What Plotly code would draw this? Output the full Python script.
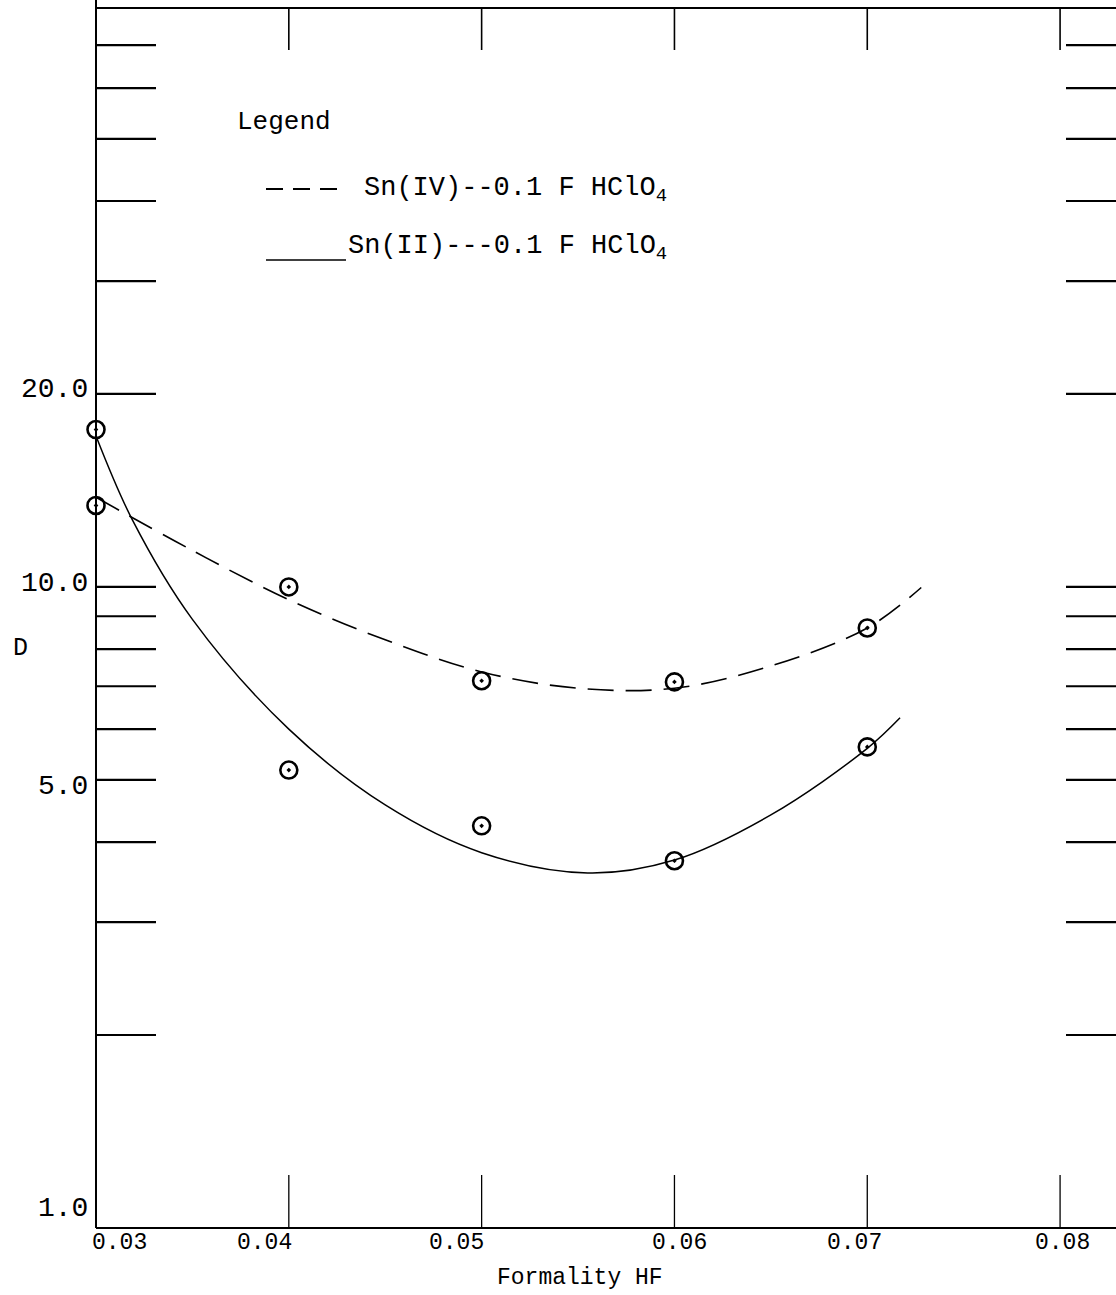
import math
import plotly.graph_objects as go

# ---------------- data ----------------
hf = [0.03, 0.04, 0.05, 0.06, 0.07]
d_sn2 = [17.6, 5.18, 4.24, 3.74, 5.63]
d_sn4 = [13.4, 10.0, 7.14, 7.11, 8.63]

sn2_curve_x = [0.030, 0.0319, 0.035, 0.040, 0.045, 0.050, 0.0555, 0.060, 0.065, 0.070, 0.0717]
sn2_curve_y = [17.2, 12.7, 8.9, 6.0, 4.57, 3.85, 3.58, 3.75, 4.41, 5.6, 6.25]
sn4_curve_x = [0.030, 0.035, 0.040, 0.045, 0.050, 0.055, 0.060, 0.065, 0.070, 0.0728]
sn4_curve_y = [13.8, 11.4, 9.55, 8.27, 7.37, 6.95, 6.95, 7.53, 8.63, 9.98]

x_ticks = [0.03, 0.04, 0.05, 0.06, 0.07, 0.08]
x_tick_labels = ["0.03", "0.04", "0.05", "0.06", "0.07", "0.08"]
y_minor_ticks = [2, 3, 4, 5, 6, 7, 8, 9, 10, 20, 30, 40, 50, 60, 70]
y_label_vals = [1.0, 5.0, 10.0, 20.0]
y_labels = ["1.0", "5.0", "10.0", "20.0"]

# ---------------- layout geometry ----------------
W, H = 1116, 1295
ML, MR, MT, MB = 96, 0, 8, 67
PW, PH = W - ML - MR, H - MT - MB
XR = [0.03, 0.0829]
YR = [0, math.log10(80)]
FONT = "Liberation Mono, Courier New, monospace"

def px(xp):
    return (xp - ML) / PW

def py(yp):
    return (H - MB - yp) / PH

fig = go.Figure()

fig.add_trace(go.Scatter(x=sn4_curve_x, y=sn4_curve_y, mode="lines",
                         line=dict(color="black", width=1.6, dash="26px,12px", shape="spline"),
                         showlegend=False, hoverinfo="skip"))
fig.add_trace(go.Scatter(x=sn2_curve_x, y=sn2_curve_y, mode="lines",
                         line=dict(color="black", width=1.5, shape="spline"),
                         showlegend=False, hoverinfo="skip"))
for ys in (d_sn4, d_sn2):
    fig.add_trace(go.Scatter(x=hf, y=ys, mode="markers", cliponaxis=False,
                             marker=dict(symbol="circle-open-dot", size=17, color="black",
                                         line=dict(width=2.6, color="black")),
                             showlegend=False))

shapes = []
lk = dict(color="black", width=2)
# frame
shapes.append(dict(type="line", xref="paper", yref="paper", x0=0, x1=0, y0=0, y1=1.01, line=lk))
shapes.append(dict(type="line", xref="paper", yref="paper", x0=0, x1=1, y0=0, y1=0, line=lk))
shapes.append(dict(type="line", xref="paper", yref="paper", x0=0, x1=1, y0=1, y1=1, line=lk))
# x ticks bottom and top
for xv in x_ticks[1:]:
    shapes.append(dict(type="line", xref="x", yref="paper", x0=xv, x1=xv, y0=0, y1=53 / PH,
                       line=dict(color="black", width=1.3)))
    shapes.append(dict(type="line", xref="x", yref="paper", x0=xv, x1=xv, y0=1, y1=1 - 42 / PH,
                       line=dict(color="black", width=1.6)))
# y ticks left and right
for yv in y_minor_ticks:
    shapes.append(dict(type="line", xref="paper", yref="y", x0=0, x1=60 / PW, y0=yv, y1=yv,
                       line=dict(color="black", width=2.2)))
    shapes.append(dict(type="line", xref="paper", yref="y", x0=px(1066), x1=1, y0=yv, y1=yv,
                       line=dict(color="black", width=2.2)))
# legend samples
shapes.append(dict(type="line", xref="paper", yref="paper", x0=px(266), x1=px(346),
                   y0=py(189), y1=py(189), line=dict(color="black", width=1.8, dash="17px,10px")))
shapes.append(dict(type="line", xref="paper", yref="paper", x0=px(266), x1=px(346),
                   y0=py(260), y1=py(260), line=dict(color="black", width=1.6)))

ann = []
txt = dict(family=FONT, color="black")
# y labels
y_shift = [20, -7, 3, 4]
for v, lab, s in zip(y_label_vals, y_labels, y_shift):
    ann.append(dict(x=px(90), y=math.log10(v), xref="paper", yref="y", text=lab, showarrow=False,
                    xanchor="right", yanchor="middle", yshift=s, font=dict(size=28, **txt)))
# x labels
x_shift = [23, -24, -25, 5, -13, 2]
for v, lab, s in zip(x_ticks, x_tick_labels, x_shift):
    ann.append(dict(x=v, y=0, xref="x", yref="paper", text=lab, showarrow=False,
                    xanchor="center", yanchor="top", yshift=0, xshift=s,
                    font=dict(size=23, **txt)))
ann.append(dict(x=px(580), y=py(1278), xref="paper", yref="paper", text="Formality HF",
                showarrow=False, xanchor="center", yanchor="middle", font=dict(size=23, **txt)))
ann.append(dict(x=px(20), y=py(648), xref="paper", yref="paper", text="D",
                showarrow=False, xanchor="center", yanchor="middle", font=dict(size=25, **txt)))
# legend text
ann.append(dict(x=px(235), y=py(122), xref="paper", yref="paper", text="Legend",
                showarrow=False, xanchor="left", yanchor="middle", font=dict(size=26, **txt)))
ann.append(dict(x=px(362), y=py(190), xref="paper", yref="paper",
                text="Sn(IV)--0.1 F HClO<sub>4</sub>",
                showarrow=False, xanchor="left", yanchor="middle", font=dict(size=27, **txt)))
ann.append(dict(x=px(346), y=py(248), xref="paper", yref="paper",
                text="Sn(II)---0.1 F HClO<sub>4</sub>",
                showarrow=False, xanchor="left", yanchor="middle", font=dict(size=27, **txt)))

fig.update_layout(
    width=W, height=H,
    margin=dict(l=ML, r=MR, t=MT, b=MB, pad=0),
    paper_bgcolor="white", plot_bgcolor="white",
    xaxis=dict(range=XR, showgrid=False, zeroline=False, showticklabels=False,
               ticks="", showline=False),
    yaxis=dict(type="log", range=YR, showgrid=False, zeroline=False, showticklabels=False,
               ticks="", showline=False),
    shapes=shapes, annotations=ann, showlegend=False,
)

fig.write_html("out.html", config={"displayModeBar": False},
               post_script="document.body.style.margin='0';document.body.style.overflow='hidden';")
